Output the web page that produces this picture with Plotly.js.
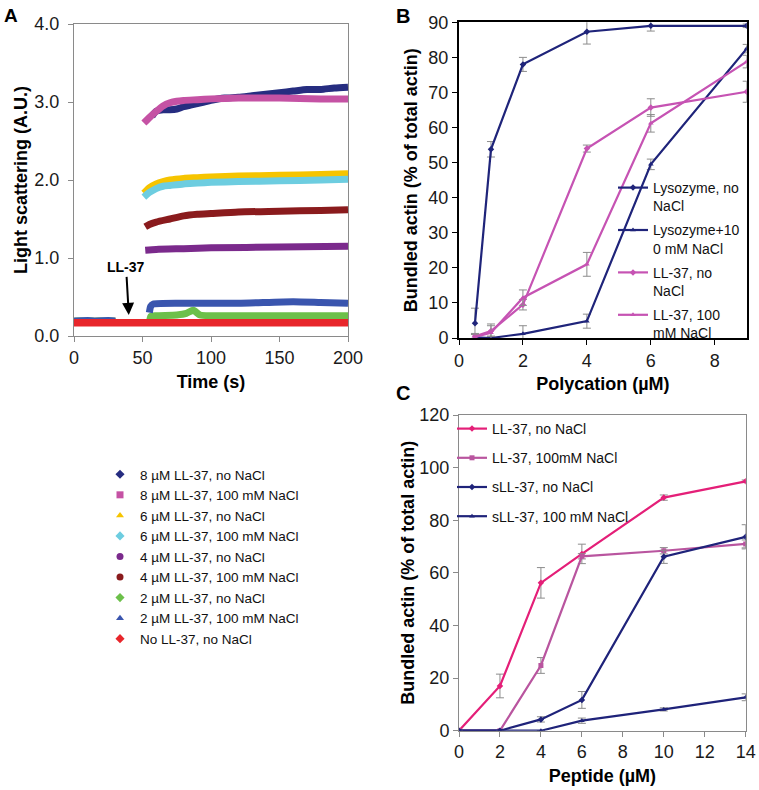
<!DOCTYPE html>
<html>
<head>
<meta charset="utf-8">
<script src="https://cdn.plot.ly/plotly-3.0.1.min.js"></script>
<style>html,body{margin:0;padding:0;background:#fff}#chart{width:759px;height:790px}</style>
</head>
<body>
<div id="chart"></div>
<script>
// ---------- Panel A : light scattering time courses ----------
const namesA = ["8 µM LL-37, no NaCl", "8 µM LL-37, 100 mM NaCl", "6 µM LL-37, no NaCl", "6 µM LL-37, 100 mM NaCl",
  "4 µM LL-37, no NaCl", "4 µM LL-37, 100 mM NaCl", "2 µM LL-37, no NaCl", "2 µM LL-37, 100 mM NaCl", "No LL-37, no NaCl"];

const tPre = [0, 5, 10, 15, 20, 25, 30];

const t8no   = [57, 60, 65, 70, 75, 80, 85, 90, 95, 100, 110, 120, 130, 140, 150, 160, 170, 180, 190, 200];
const y8no   = [2.82, 2.88, 2.9, 2.9, 2.91, 2.94, 2.96, 2.98, 3.0, 3.02, 3.05, 3.06, 3.08, 3.1, 3.12, 3.14, 3.16, 3.16, 3.18, 3.19];
const t8salt = [51, 55, 60, 65, 70, 75, 80, 90, 100, 120, 150, 180, 200];
const y8salt = [2.73, 2.8, 2.88, 2.95, 2.99, 3.01, 3.02, 3.03, 3.04, 3.05, 3.05, 3.04, 3.04];
const t6no   = [51, 55, 60, 65, 70, 80, 90, 100, 120, 150, 180, 200];
const y6no   = [1.83, 1.9, 1.95, 1.98, 2.0, 2.02, 2.03, 2.04, 2.05, 2.06, 2.07, 2.08];
const t6salt = [51, 55, 60, 65, 70, 80, 90, 100, 120, 150, 180, 200];
const y6salt = [1.78, 1.84, 1.89, 1.92, 1.93, 1.95, 1.96, 1.97, 1.98, 1.99, 2.0, 2.01];
const t4no   = [52, 60, 80, 100, 150, 200];
const y4no   = [1.1, 1.11, 1.12, 1.13, 1.14, 1.15];
const t4salt = [52, 55, 60, 70, 80, 90, 100, 120, 150, 180, 200];
const y4salt = [1.4, 1.43, 1.46, 1.5, 1.54, 1.56, 1.57, 1.59, 1.6, 1.61, 1.62];
const t2no   = [55, 56, 60, 75, 82, 87, 92, 100, 150, 200];
const y2no   = [0.13, 0.25, 0.26, 0.27, 0.29, 0.33, 0.27, 0.26, 0.26, 0.26];
const t2salt = [55, 56, 58, 80, 120, 160, 180, 200];
const y2salt = [0.3, 0.38, 0.41, 0.42, 0.42, 0.44, 0.43, 0.42];
const t0     = [0, 25, 50, 75, 100, 125, 150, 175, 200];
const y0     = [0.17, 0.17, 0.17, 0.17, 0.17, 0.17, 0.17, 0.17, 0.17];
const yPre   = [0.19, 0.2, 0.2, 0.19, 0.2, 0.2, 0.19];

// ---------- Panel B : bundled actin vs polycation ----------
const xB = [0.5, 1, 2, 4, 6, 9];
const namesB = ["Lysozyme, no<br>NaCl", "Lysozyme+10<br>0 mM NaCl", "LL-37, no<br>NaCl", "LL-37, 100<br>mM NaCl"];
const lysoNo      = [4.2, 53.8, 78.0, 87.3, 89.0, 89.0];
const lysoNoErr   = [4.3, 2.2, 2.0, 3.5, 1.5, 0.5];
const lysoSalt    = [0.2, 0, 1.2, 4.8, 49.5, 82.5];
const lysoSaltErr = [0.8, 0.5, 2.3, 2.0, 1.5, 1.2];
const llB_No      = [0.5, 2.0, 9.5, 54.0, 65.7, 70.2];
const llB_NoErr   = [0.8, 1.5, 1.5, 1.0, 2.5, 3.0];
const llB_Salt    = [0.3, 1.5, 11.5, 21.0, 61.2, 78.8];
const llB_SaltErr = [0.8, 2.5, 2.2, 3.4, 2.5, 1.8];

// ---------- Panel C : bundled actin vs peptide ----------
const xC = [0, 2, 4, 6, 10, 14];
const namesC = ["LL-37, no NaCl", "LL-37, 100mM NaCl", "sLL-37, no NaCl", "sLL-37, 100 mM NaCl"];
const llC_No      = [0, 17.0, 56.2, 67.2, 88.6, 94.8];
const llC_NoErr   = [0, 4.5, 5.8, 3.7, 1.0, 0.5];
const llC_Salt    = [0, 0, 24.8, 66.3, 68.4, 71.0];
const llC_SaltErr = [0, 0, 3.0, 1.0, 1.2, 1.5];
const sNo         = [0, 0, 4.3, 11.7, 66.1, 73.7];
const sNoErr      = [0, 0, 1.0, 3.2, 2.5, 4.6];
const sSalt       = [0, 0, 0, 3.8, 8.1, 12.7];
const sSaltErr    = [0, 0, 0, 1.0, 0.6, 1.3];

// ---------- styling ----------
const colA = ["#262d80", "#c552a4", "#f6c400", "#6dcde0", "#7b2a8c", "#8a1b1d", "#6cc04a", "#3a55ae", "#e8262b"];
const symA = ["diamond", "square", "triangle-up", "diamond", "circle", "circle", "diamond", "triangle-up", "diamond"];
const FONT = "Liberation Sans, Arial, sans-serif";

const seriesA = [[t8no, y8no], [t8salt, y8salt], [t6no, y6no], [t6salt, y6salt], [t4no, y4no],
  [t4salt, y4salt], [t2no, y2no], [t2salt, y2salt]];

const traces = [];
// pre-injection baselines (buffer signal before LL-37 addition)
[0, 2, 3, 7].forEach(i => {
  traces.push({x: tPre, y: yPre, type: "scatter", mode: "lines", xaxis: "x", yaxis: "y",
    line: {color: colA[i], width: 7}, showlegend: false, hoverinfo: "skip"});
});
seriesA.forEach((s, i) => {
  traces.push({x: s[0], y: s[1], type: "scatter", mode: "lines", xaxis: "x", yaxis: "y",
    line: {color: colA[i], width: 7, shape: "spline", smoothing: 0.6}, showlegend: false, name: namesA[i]});
});
traces.push({x: t0, y: y0, type: "scatter", mode: "lines", xaxis: "x", yaxis: "y",
  line: {color: colA[8], width: 7.5}, showlegend: false, name: namesA[8]});
// legend entries for panel A (marker keys)
namesA.forEach((n, i) => {
  traces.push({x: [null], y: [null], type: "scatter", mode: "markers", xaxis: "x", yaxis: "y",
    name: n, legend: "legend", marker: {color: colA[i], symbol: symA[i], size: 7}});
});

function errT(x, y, e, name, color, sym, xa, ya, lg, grp) {
  return {x: x, y: y, type: "scatter", mode: "lines+markers", name: name, xaxis: xa, yaxis: ya,
    legend: lg, legendgroup: grp,
    line: {color: color, width: 2.2}, marker: {color: color, symbol: sym, size: 5},
    error_y: {type: "data", array: e, visible: true, color: "#8c8c8c", thickness: 1, width: 4}};
}
const navyB = "#1f247a", pinkB = "#c653b3";
traces.push(errT(xB, lysoNo, lysoNoErr, namesB[0], navyB, "diamond", "x2", "y2", "legend2", "b1"));
traces.push(errT(xB, lysoSalt, lysoSaltErr, namesB[1], navyB, "triangle-up", "x2", "y2", "legend2", "b2"));
traces.push(errT(xB, llB_No, llB_NoErr, namesB[2], pinkB, "diamond", "x2", "y2", "legend2", "b3"));
traces.push(errT(xB, llB_Salt, llB_SaltErr, namesB[3], pinkB, "triangle-up", "x2", "y2", "legend2", "b4"));

traces.push(errT(xC, llC_No, llC_NoErr, namesC[0], "#e41f78", "diamond", "x3", "y3", "legend3", "c1"));
traces.push(errT(xC, llC_Salt, llC_SaltErr, namesC[1], "#b9559f", "square", "x3", "y3", "legend3", "c2"));
traces.push(errT(xC, sNo, sNoErr, namesC[2], "#1f237a", "diamond", "x3", "y3", "legend3", "c3"));
traces.push(errT(xC, sSalt, sSaltErr, namesC[3], "#1f237a", "triangle-up", "x3", "y3", "legend3", "c4"));

const W = 759, H = 790;
const px = v => v / W, py = v => 1 - v / H;
const tickF = {family: FONT, size: 18, color: "#1a1a1a"};
const titleF = {family: FONT, size: 18, color: "#000", weight: "bold"};

function ax(o) {
  return Object.assign({showgrid: false, zeroline: false, showline: true, mirror: true,
    ticks: "outside", ticklen: 5, tickfont: tickF, fixedrange: true}, o);
}

const layout = {
  width: W, height: H, margin: {l: 0, r: 0, t: 0, b: 0},
  paper_bgcolor: "#fff", plot_bgcolor: "#fff", font: {family: FONT},
  xaxis: ax({domain: [px(74), px(348)], range: [0, 200], dtick: 50, anchor: "y",
    linecolor: "#8a8a8a", tickcolor: "#8a8a8a",
    title: {text: "<b>Time (s)</b>", font: titleF, standoff: 8}}),
  yaxis: ax({domain: [py(336), py(24)], range: [0, 4], dtick: 1, tickformat: ".1f", anchor: "x",
    linecolor: "#8a8a8a", tickcolor: "#8a8a8a", ticklabelstandoff: 5,
    title: {text: "<b>Light scattering (A.U.)</b>", font: titleF, standoff: 2}}),
  xaxis2: ax({domain: [px(459), px(746.7)], range: [0, 9], tickvals: [0, 2, 4, 6, 8], anchor: "y2",
    linecolor: "#000", tickcolor: "#000", linewidth: 2,
    title: {text: "<b>Polycation (µM)</b>", font: titleF, standoff: 8}}),
  yaxis2: ax({domain: [py(338), py(22.3)], range: [0, 90], dtick: 10, anchor: "x2",
    linecolor: "#000", tickcolor: "#000", linewidth: 2,
    title: {text: "<b>Bundled actin (% of total actin)</b>", font: titleF, standoff: 6}}),
  xaxis3: ax({domain: [px(459), px(745.7)], range: [0, 14], dtick: 2, anchor: "y3",
    linecolor: "#8a8a8a", tickcolor: "#8a8a8a",
    title: {text: "<b>Peptide (µM)</b>", font: titleF, standoff: 8}}),
  yaxis3: ax({domain: [py(730.7), py(415)], range: [0, 120], dtick: 20, anchor: "x3",
    linecolor: "#8a8a8a", tickcolor: "#8a8a8a",
    title: {text: "<b>Bundled actin (% of total actin)</b>", font: titleF, standoff: 0}}),
  legend: {x: px(100), y: py(459), xanchor: "left", yanchor: "top", bgcolor: "rgba(0,0,0,0)",
    font: {family: FONT, size: 13.5, color: "#111"}, traceorder: "normal"},
  legend2: {x: px(613), y: py(172), xanchor: "left", yanchor: "top", bgcolor: "rgba(0,0,0,0)",
    font: {family: FONT, size: 14, color: "#111"}, valign: "top", traceorder: "grouped", tracegroupgap: 3},
  legend3: {x: px(452), y: py(413), xanchor: "left", yanchor: "top", bgcolor: "rgba(0,0,0,0)",
    font: {family: FONT, size: 14, color: "#111"}, traceorder: "grouped", tracegroupgap: 8},
  annotations: [
    {text: "<b>A</b>", xref: "paper", yref: "paper", x: px(2), y: py(3), xanchor: "left", yanchor: "top",
      showarrow: false, font: {family: FONT, size: 19, color: "#000"}},
    {text: "<b>B</b>", xref: "paper", yref: "paper", x: px(394), y: py(3), xanchor: "left", yanchor: "top",
      showarrow: false, font: {family: FONT, size: 20, color: "#000"}},
    {text: "<b>C</b>", xref: "paper", yref: "paper", x: px(394), y: py(380), xanchor: "left", yanchor: "top",
      showarrow: false, font: {family: FONT, size: 20, color: "#000"}},
    {text: "<b>LL-37</b>", xref: "x", yref: "y", axref: "x", ayref: "y", x: 40, y: 0.27, ax: 38, ay: 0.88,
      showarrow: true, arrowhead: 2, arrowsize: 1.2, arrowwidth: 2, arrowcolor: "#000",
      font: {family: FONT, size: 14, color: "#000"}}
  ]
};

Plotly.newPlot("chart", traces, layout, {displayModeBar: false, staticPlot: true});
</script>
</body>
</html>
